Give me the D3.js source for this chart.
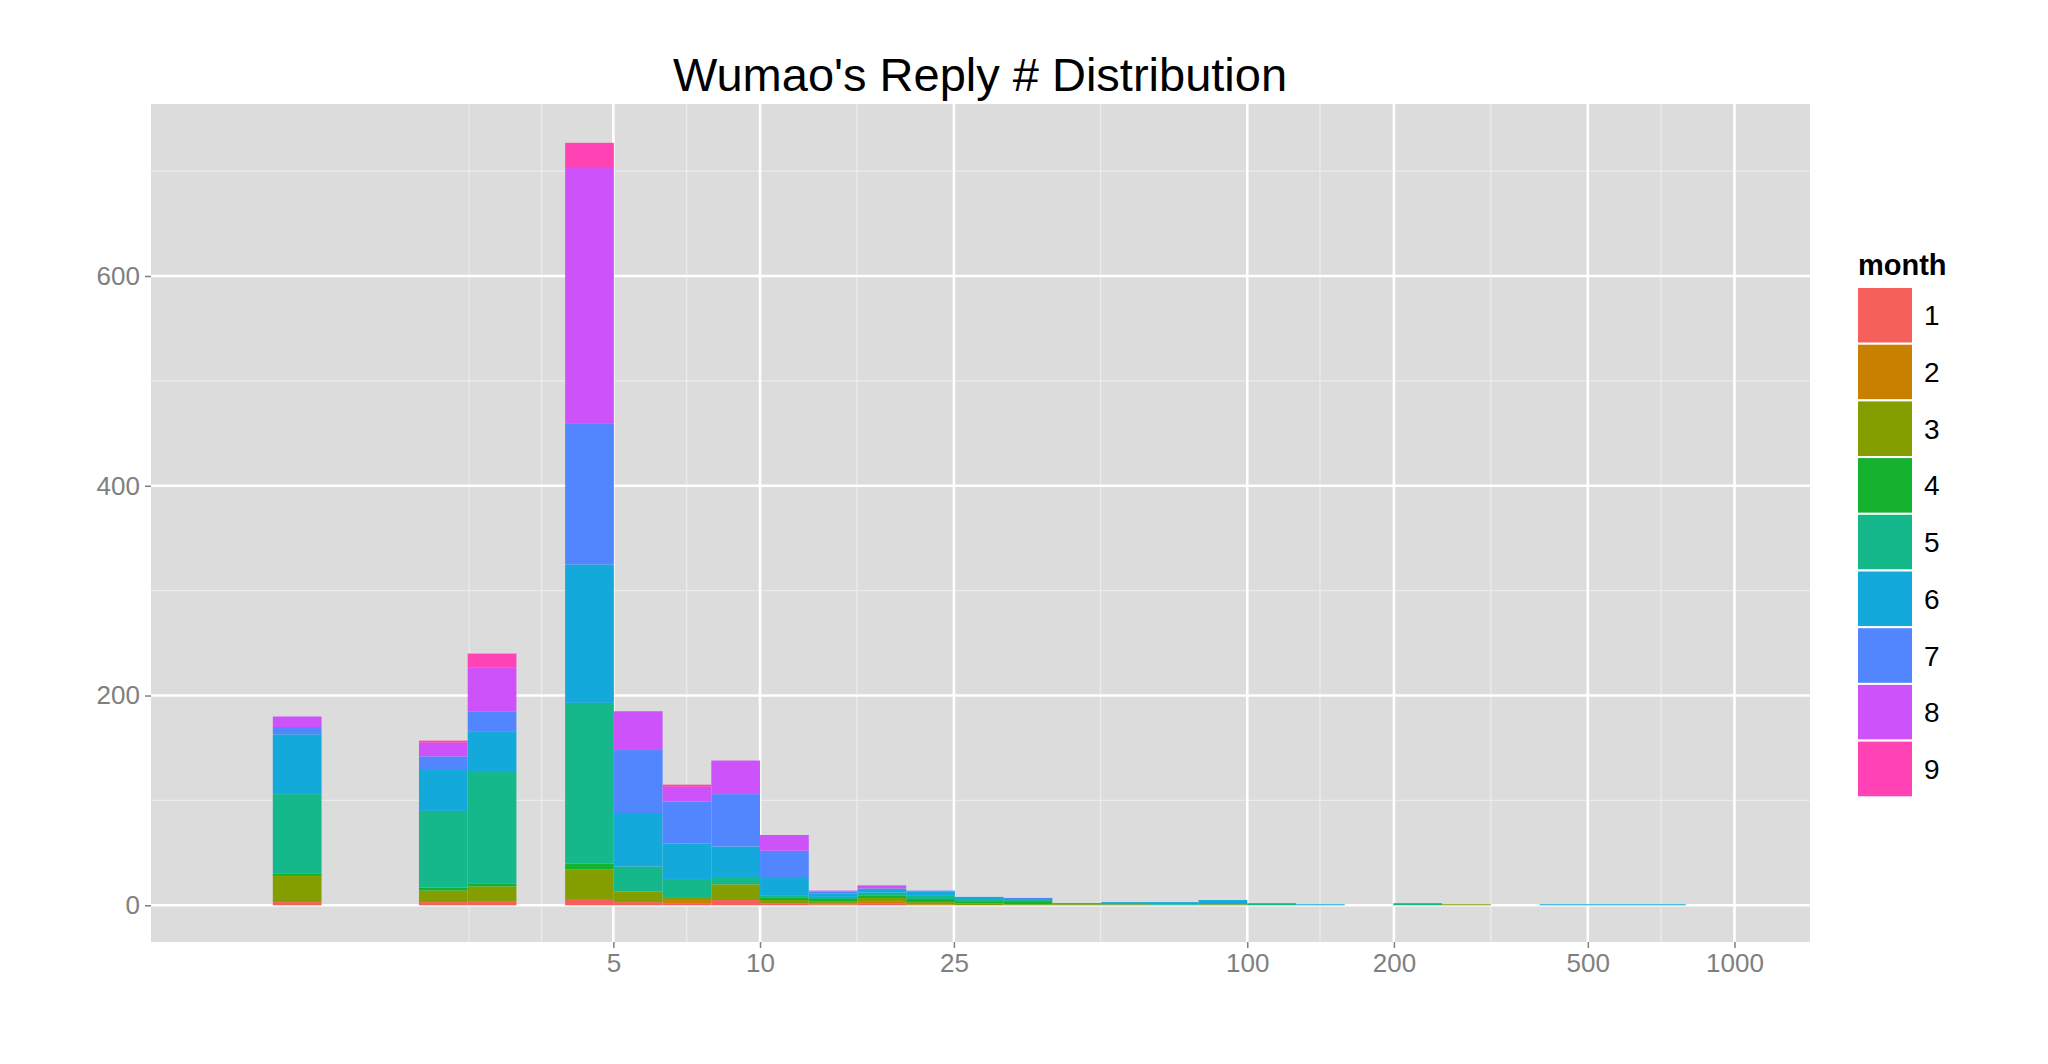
<!DOCTYPE html>
<html>
<head>
<meta charset="utf-8">
<script src="https://cdn.jsdelivr.net/npm/d3@7"></script>
<style>
  body { margin: 0; background: #fff; }
  text { font-family: "Liberation Sans", Arial, sans-serif; }
</style>
</head>
<body>
<div id="chart"></div>
<script>
const W = 2048, H = 1064;
const panel = { left: 151, right: 1810, top: 104, bottom: 942 };

// left edge of each histogram bin, in log10(reply #), bin width 0.1
const binLeft = [0, 0.3, 0.4, 0.6, 0.7, 0.8, 0.9, 1.0, 1.1, 1.2, 1.3, 1.4, 1.5, 1.6,
  1.7, 1.8, 1.9, 2.0, 2.1, 2.3, 2.4, 2.6, 2.7, 2.8];
const binWidth = 0.1;

const month1 = [3, 3, 4, 6, 3, 2, 5, 2, 1, 2, 0, 0, 0, 0, 0, 0, 0, 0, 0, 0, 0, 0, 0, 0];
const month2 = [0, 0, 0, 0, 0, 3, 0, 0, 1, 2, 1, 0, 0, 0, 0, 0, 0, 0, 0, 0, 0, 0, 0, 0];
const month3 = [25, 11, 14, 28, 10, 2, 15, 3, 2, 3, 2, 2, 1, 1, 1, 0, 1, 0, 0, 0, 1, 0, 0, 0];
const month4 = [2, 3, 3, 6, 0, 0, 0, 2, 2, 2, 3, 2, 3, 1, 0, 0, 0, 0, 0, 0, 0, 0, 0, 0];
const month5 = [76, 73, 107, 153, 24, 18, 7, 2, 2, 3, 3, 1, 1, 0, 0, 1, 0, 2, 0, 2, 0, 0, 0, 0];
const month6 = [57, 39, 38, 132, 51, 34, 29, 17, 3, 4, 4, 3, 1, 0, 2, 2, 4, 0, 1, 0, 0, 1, 1, 1];
const month7 = [7, 13, 19, 134, 60, 40, 50, 26, 2, 0, 1, 0, 1, 0, 0, 0, 0, 0, 0, 0, 0, 0, 0, 0];
const month8 = [10, 13, 42, 244, 37, 14, 32, 15, 1, 3, 0, 0, 0, 0, 0, 0, 0, 0, 0, 0, 0, 0, 0, 0];
const month9 = [0, 2, 13, 24, 0, 2, 0, 0, 0, 0, 0, 0, 0, 0, 0, 0, 0, 0, 0, 0, 0, 0, 0, 0];

const months = ["1", "2", "3", "4", "5", "6", "7", "8", "9"];
const monthColors = ["#F5605A", "#C88000", "#849E00", "#14B22F", "#15B88A",
  "#13A9DB", "#5186FE", "#CD52F9", "#FF43B4"];

const xMajor = [5, 10, 25, 100, 200, 500, 1000];
const xMinor = [2.53, 3.56, 7.07, 15.8, 50, 141, 316, 707];
const yMajor = [0, 200, 400, 600];
const yMinor = [100, 300, 500, 700];

const series = [month1, month2, month3, month4, month5, month6, month7, month8, month9];
const rows = binLeft.map(function (b, i) {
  const r = { bin: b };
  months.forEach(function (m, k) { r[m] = series[k][i]; });
  return r;
});

const svg = d3.select("#chart").append("svg").attr("width", W).attr("height", H);

// x in log10 space
const x = d3.scaleLinear().domain([-0.25, 3.155]).range([panel.left, panel.right]);
const y = d3.scaleLinear().domain([-35, 764]).range([panel.bottom, panel.top]);

svg.append("rect")
  .attr("x", panel.left).attr("y", panel.top)
  .attr("width", panel.right - panel.left).attr("height", panel.bottom - panel.top)
  .attr("fill", "#dcdcdc");

const grid = svg.append("g");
grid.selectAll(".yminor").data(yMinor).enter().append("line")
  .attr("x1", panel.left).attr("x2", panel.right)
  .attr("y1", d => y(d)).attr("y2", d => y(d))
  .attr("stroke", "#ebebeb").attr("stroke-width", 1.3);
grid.selectAll(".xminor").data(xMinor).enter().append("line")
  .attr("y1", panel.top).attr("y2", panel.bottom)
  .attr("x1", d => x(Math.log10(d))).attr("x2", d => x(Math.log10(d)))
  .attr("stroke", "#ebebeb").attr("stroke-width", 1.3);
grid.selectAll(".ymajor").data(yMajor).enter().append("line")
  .attr("x1", panel.left).attr("x2", panel.right)
  .attr("y1", d => y(d)).attr("y2", d => y(d))
  .attr("stroke", "#fff").attr("stroke-width", 2.6);
grid.selectAll(".xmajor").data(xMajor).enter().append("line")
  .attr("y1", panel.top).attr("y2", panel.bottom)
  .attr("x1", d => x(Math.log10(d))).attr("x2", d => x(Math.log10(d)))
  .attr("stroke", "#fff").attr("stroke-width", 2.6);

const stack = d3.stack().keys(months).order(d3.stackOrderNone).offset(d3.stackOffsetNone);
const layers = stack(rows);

svg.selectAll("g.month").data(layers).enter().append("g")
  .attr("fill", (d, i) => monthColors[i])
  .selectAll("rect")
  .data(d => d.filter(s => s[1] > s[0]))
  .enter().append("rect")
  .attr("x", d => x(d.data.bin))
  .attr("width", d => x(d.data.bin + binWidth) - x(d.data.bin))
  .attr("y", d => y(d[1]))
  .attr("height", d => y(d[0]) - y(d[1]));

// axes
const yAxis = d3.axisLeft(y).tickValues(yMajor).tickSizeInner(6).tickSizeOuter(0).tickPadding(5);
const gy = svg.append("g").attr("transform", `translate(${panel.left},0)`).call(yAxis);
const xAxis = d3.axisBottom(x)
  .tickValues(xMajor.map(v => Math.log10(v)))
  .tickFormat(d => d3.format("d")(Math.round(Math.pow(10, d))))
  .tickSizeInner(6).tickSizeOuter(0).tickPadding(6);
const gx = svg.append("g").attr("transform", `translate(0,${panel.bottom})`).call(xAxis);
[gx, gy].forEach(function (g) {
  g.select(".domain").remove();
  g.selectAll(".tick line").attr("stroke", "#7f7f7f").attr("stroke-width", 1.5);
  g.selectAll(".tick text").attr("fill", "#7f7f7f").style("font-size", "26px");
});

svg.append("text")
  .attr("x", 980).attr("y", 91)
  .attr("text-anchor", "middle")
  .style("font-size", "47px").attr("fill", "#000")
  .text("Wumao's Reply # Distribution");

// legend
const legend = svg.append("g").attr("transform", "translate(1857,287)");
legend.append("text").attr("x", 1).attr("y", -12)
  .style("font-size", "29px").style("font-weight", "bold").text("month");
const keyH = 56.7, keyW = 56;
const key = legend.selectAll("g.key").data(months).enter().append("g")
  .attr("transform", (d, i) => `translate(0,${i * keyH})`);
key.append("rect").attr("width", keyW).attr("height", keyH)
  .attr("fill", (d, i) => monthColors[i]).attr("stroke", "#fff").attr("stroke-width", 2);
key.append("text").attr("x", keyW + 11).attr("y", keyH / 2 + 10)
  .style("font-size", "28px").text(d => d);
</script>
</body>
</html>
